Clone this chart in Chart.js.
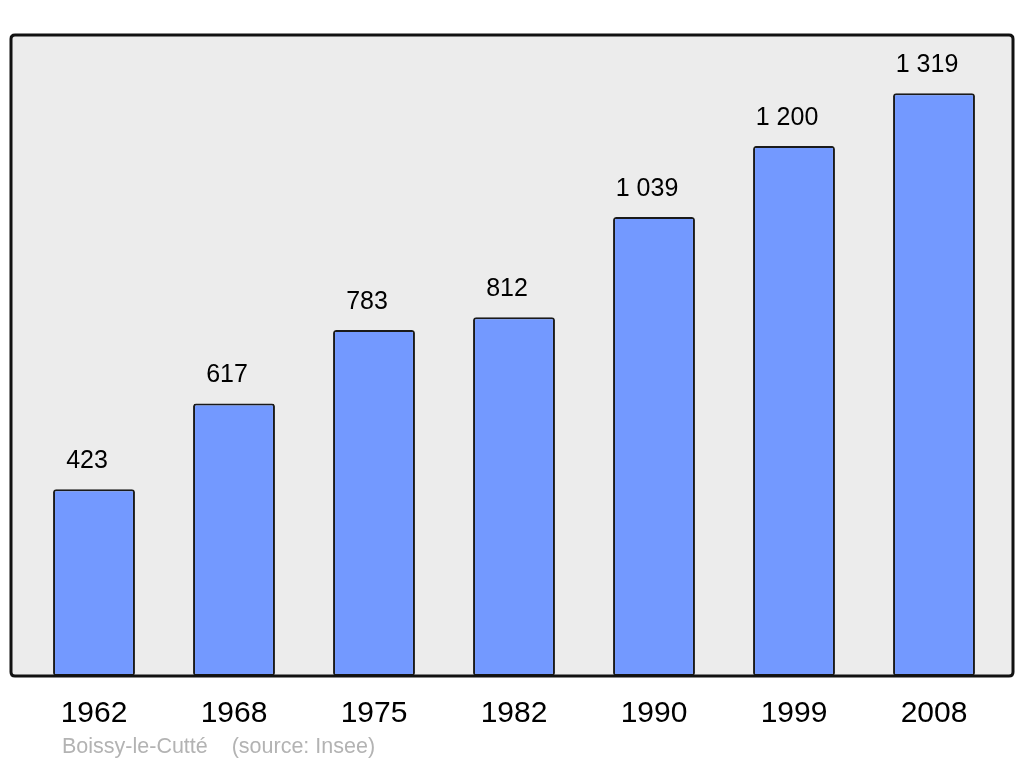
<!DOCTYPE html>
<html lang="fr">
<head>
    <meta charset="UTF-8">
    <title>Boissy-le-Cutté - population</title>
    <style>
        html, body { margin: 0; padding: 0; background: #ffffff; }
        .chart { width: 1024px; height: 765px; }
    </style>
</head>
<body>
    <div class="chart">
        <canvas id="popChart"></canvas>
    </div>

    <script src="https://cdn.jsdelivr.net/npm/chart.js"></script>
    <script>
        const years = ['1962', '1968', '1975', '1982', '1990', '1999', '2008'];
        const population = [423, 617, 783, 812, 1039, 1200, 1319];
        const sourceText = 'Boissy-le-Cutté    (source: Insee)';

        // french style thousands: "1 319"
        function fmt(v) {
            return String(v).replace(/\B(?=(\d{3})+(?!\d))/g, ' ');
        }

        function roundRect(ctx, x, y, w, h, r) {
            ctx.beginPath();
            ctx.moveTo(x + r, y);
            ctx.lineTo(x + w - r, y);
            ctx.quadraticCurveTo(x + w, y, x + w, y + r);
            ctx.lineTo(x + w, y + h - r);
            ctx.quadraticCurveTo(x + w, y + h, x + w - r, y + h);
            ctx.lineTo(x + r, y + h);
            ctx.quadraticCurveTo(x, y + h, x, y + h - r);
            ctx.lineTo(x, y + r);
            ctx.quadraticCurveTo(x, y, x + r, y);
            ctx.closePath();
        }

        const frame = {
            id: 'frame',
            beforeDatasetsDraw(chart) {
                const { ctx, chartArea: a } = chart;
                ctx.save();
                roundRect(ctx, a.left - 13, a.top, a.right - a.left + 22, a.bottom - a.top, 4);
                ctx.fillStyle = '#ececec';
                ctx.fill();
                ctx.restore();
            },
            afterDatasetsDraw(chart) {
                const { ctx, chartArea: a } = chart;
                ctx.save();
                roundRect(ctx, a.left - 13, a.top, a.right - a.left + 22, a.bottom - a.top, 4);
                ctx.lineWidth = 3;
                ctx.strokeStyle = '#111111';
                ctx.stroke();

                // values above bars (sit a bit left of the bar centre, like the original)
                ctx.fillStyle = '#000000';
                ctx.font = '25px "Liberation Sans", Arial, sans-serif';
                ctx.textAlign = 'center';
                ctx.textBaseline = 'middle';
                chart.getDatasetMeta(0).data.forEach((bar, i) => {
                    ctx.fillText(fmt(population[i]), bar.x - 7, bar.y - 28);
                });

                // source line
                ctx.fillStyle = '#b3b3b3';
                ctx.font = '21.5px "Liberation Sans", Arial, sans-serif';
                ctx.textAlign = 'left';
                ctx.fillText(sourceText, a.left + 38, 747);
                ctx.restore();
            }
        };

        new Chart(document.getElementById('popChart'), {
            type: 'bar',
            data: {
                labels: years,
                datasets: [{
                    data: population,
                    backgroundColor: '#7399ff',
                    borderColor: '#1a1a1a',
                    borderWidth: 2,
                    borderRadius: 3,
                    borderSkipped: false,
                    barPercentage: 0.585,
                    categoryPercentage: 1.0
                }]
            },
            options: {
                responsive: true,
                maintainAspectRatio: false,
                animation: false,
                events: [],
                layout: {
                    padding: { left: 24, right: 20, top: 35, bottom: 0 }
                },
                plugins: {
                    legend: { display: false },
                    tooltip: { enabled: false }
                },
                scales: {
                    x: {
                        grid: { display: false, drawTicks: false },
                        border: { display: false },
                        ticks: {
                            color: '#000000',
                            padding: 20,
                            font: { family: '"Liberation Sans", Arial, sans-serif', size: 30 }
                        },
                        afterFit: (s) => { s.height = 89; }
                    },
                    y: {
                        display: false,
                        min: 0,
                        max: 1451
                    }
                }
            },
            plugins: [frame]
        });
    </script>
</body>
</html>
